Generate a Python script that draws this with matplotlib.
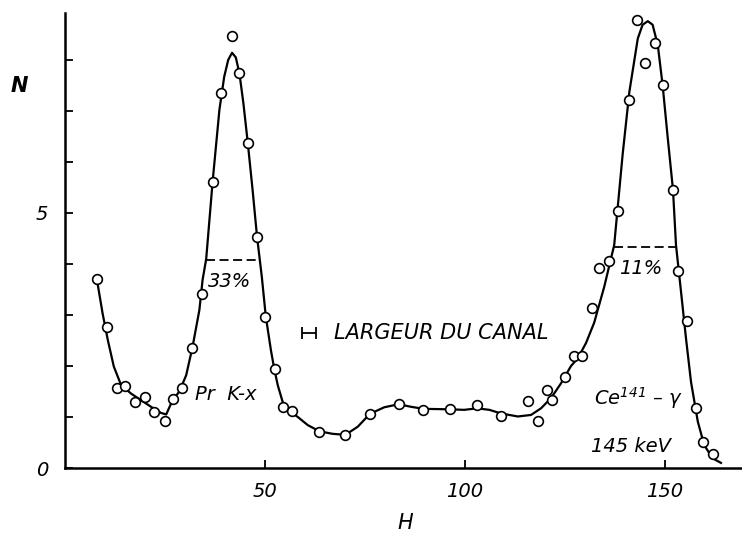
import numpy as np
import matplotlib
matplotlib.use("Agg")
import matplotlib.pyplot as plt

# points mesurés (canal H, nombre N)
h_pts = [8.0, 10.5, 13.0, 15.1, 17.6, 20.0, 22.2, 25.0, 26.9, 29.25, 31.7, 34.2,
         37.1, 39.0, 41.75, 43.6, 45.8, 48.1, 50.1, 52.5, 54.4, 56.8, 63.6, 70.1,
         76.2, 83.4, 89.6, 96.25, 103.0, 109.0, 115.8, 118.2, 120.5, 121.75, 124.9,
         127.2, 129.3, 131.7, 133.5, 136.1, 138.3, 140.9, 143.1, 145.0, 147.5,
         149.6, 152.1, 153.2, 155.6, 157.7, 159.6, 162.0]
n_pts = [3.70, 2.77, 1.57, 1.60, 1.29, 1.39, 1.10, 0.92, 1.35, 1.57, 2.35, 3.41,
         5.61, 7.36, 8.46, 7.74, 6.37, 4.53, 2.96, 1.95, 1.20, 1.12, 0.71, 0.65,
         1.06, 1.25, 1.14, 1.15, 1.23, 1.01, 1.31, 0.93, 1.52, 1.33, 1.78,
         2.19, 2.19, 3.14, 3.92, 4.06, 5.04, 7.22, 8.78, 7.94, 8.34,
         7.51, 5.45, 3.86, 2.88, 1.18, 0.51, 0.27]

# courbe tracée à la main
h_curve = [8.2, 9.4, 10.7, 12.2, 14.0, 16.5, 19.0, 21.5, 24.0, 25.3, 26.9, 28.6,
           30.3, 31.9, 33.6, 34.4, 35.3, 36.9, 38.6, 39.8, 40.8, 41.75, 42.7, 43.6,
           44.6, 45.7, 46.9, 48.0, 49.2, 50.2, 51.5, 52.3, 53.2, 54.4, 55.5, 58.2,
           60.7, 63.6, 66.9, 70.1, 73.2, 76.2, 79.8, 83.4, 86.5, 89.6, 96.3, 99.8,
           103.0, 106.1, 109.0, 113.2, 116.5, 119.0, 121.5, 124.0, 126.5, 128.2,
           130.25, 132.3, 134.8, 137.3, 139.4, 141.1, 143.2, 144.4, 145.7, 146.9,
           148.2, 149.4, 150.7, 152.0, 152.75, 154.0, 155.25, 156.5, 158.2, 159.8,
           161.9, 164.0]
n_curve = [3.59, 3.03, 2.51, 1.99, 1.63, 1.46, 1.33, 1.20, 1.08, 1.05, 1.33, 1.50,
           1.82, 2.38, 3.10, 3.69, 4.10, 5.61, 7.02, 7.67, 8.00, 8.14, 8.05, 7.74,
           7.15, 6.37, 5.45, 4.54, 3.75, 2.97, 2.30, 1.95, 1.62, 1.30, 1.15, 1.00,
           0.84, 0.72, 0.67, 0.65, 0.81, 1.06, 1.19, 1.25, 1.20, 1.16, 1.15, 1.14,
           1.17, 1.14, 1.07, 1.01, 1.04, 1.17, 1.37, 1.66, 2.00, 2.15,
           2.45, 2.85, 3.55, 4.37, 6.14, 7.38, 8.42, 8.69, 8.76, 8.69,
           8.29, 7.51, 6.46, 5.45, 4.37, 3.46, 2.54, 1.69, 0.91, 0.45,
           0.19, 0.10]

# largeurs à mi-hauteur
fwhm_left = [35.25, 48.3]
fwhm_left_n = 4.08
fwhm_right = [137.3, 152.75]
fwhm_right_n = 4.34

plt.rcParams['font.family'] = ['DejaVu Sans']
plt.rcParams['font.style'] = 'italic'

fig = plt.figure(figsize=(7.42, 5.33), dpi=100)
ax = fig.add_axes([65/742, 65/533, 677/742, 455/533])

ax.plot(h_curve, n_curve, color='black', lw=1.6, zorder=2)
ax.plot(h_pts, n_pts, 'o', ms=7, mfc='white', mec='black', mew=1.2, zorder=3)

ax.hlines(fwhm_left_n, fwhm_left[0], fwhm_left[1], colors='black', lw=1.3,
          linestyles=(0, (5, 2.5)))
ax.hlines(fwhm_right_n, fwhm_right[0], fwhm_right[1], colors='black', lw=1.3,
          linestyles=(0, (5, 2.5)))

ax.errorbar([61.0], [2.64], xerr=[1.75], fmt='none', ecolor='black',
            elinewidth=1.3, capsize=4, capthick=1.3)

ax.text(41.1, 3.65, "33%", fontsize=14, ha='center', va='center')
ax.text(144.0, 3.92, "11%", fontsize=14, ha='center', va='center')
ax.text(32.5, 1.45, "Pr  K-x", fontsize=14, ha='left', va='center')
ax.text(67.25, 2.64, "LARGEUR DU CANAL", fontsize=15, ha='left', va='center')
ax.text(132.3, 1.37, r"Ce$^{\mathit{141}}$ – γ", fontsize=14, ha='left', va='center')
ax.text(141.5, 0.42, "145 keV", fontsize=14, ha='center', va='center')

ax.set_xlim(0, 169.25)
ax.set_ylim(0, 8.92)
ax.spines['top'].set_visible(False)
ax.spines['right'].set_visible(False)
ax.spines['left'].set_linewidth(1.8)
ax.spines['bottom'].set_linewidth(1.8)

ax.set_xticks([50, 100, 150])
ax.set_xticklabels(["50", "100", "150"])
ax.set_yticks(range(0, 9))
ax.set_yticklabels(["0", "", "", "", "", "5", "", "", ""])
ax.tick_params(direction='in', length=6, width=1.3, labelsize=14)
ax.tick_params(axis='x', pad=10)
ax.tick_params(axis='y', pad=12)

fig.text(19/742, 1 - 86/533, "N", fontsize=15, fontweight='bold', ha='center', va='center')
fig.text(405/742, 1 - 523/533, "H", fontsize=15, ha='center', va='center')

fig.savefig("out.png", dpi=100)
